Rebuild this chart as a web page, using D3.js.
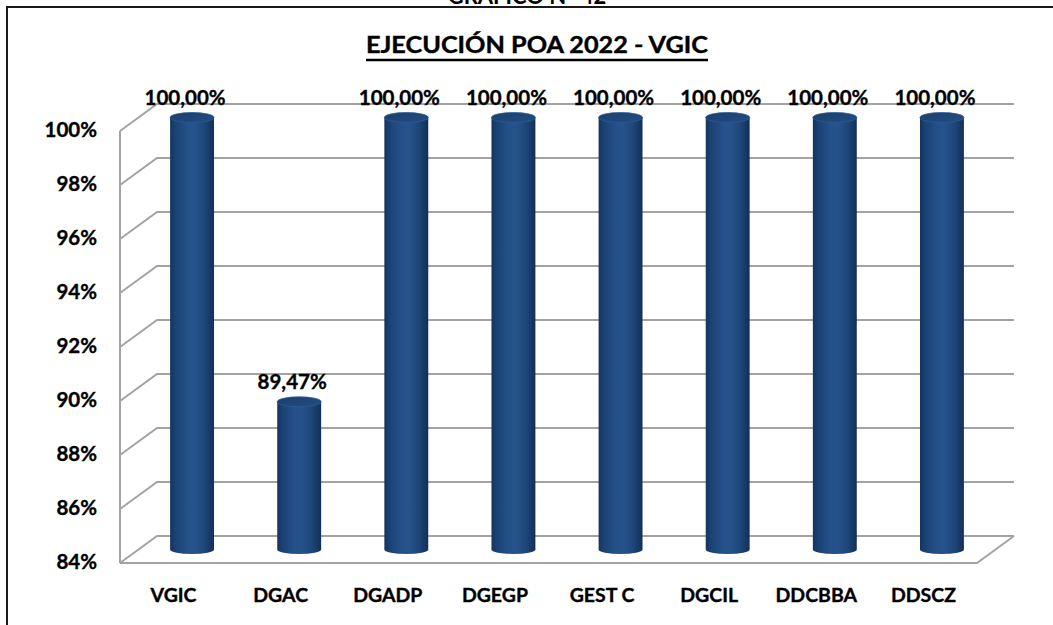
<!DOCTYPE html>
<html><head><meta charset="utf-8">
<script src="https://cdn.jsdelivr.net/npm/d3@7"></script>
<style>
html,body{margin:0;padding:0;background:#fff;}
svg{display:block;font-family:Lato,"Open Sans",sans-serif;}
</style></head>
<body>
<script>
const categories = ["VGIC","DGAC","DGADP","DGEGP","GEST C","DGCIL","DDCBBA","DDSCZ"];
const values = [100, 89.47, 100, 100, 100, 100, 100, 100];
const valueLabels = ["100,00%","89,47%","100,00%","100,00%","100,00%","100,00%","100,00%","100,00%"];
const tickValues = [84, 86, 88, 90, 92, 94, 96, 98, 100];
const tickLabels = ["84%","86%","88%","90%","92%","94%","96%","98%","100%"];
const chartTitle = "EJECUCIÓN POA 2022 - VGIC";
const topTitle = "GRÁFICO N° 42";

const W = 1053, H = 625;
const svg = d3.select("body").append("svg").attr("width", W).attr("height", H);

const DX = 37, DY = -27;

const x = d3.scaleBand().domain(categories).range([120, 977]).paddingInner(0).paddingOuter(0);
const y = d3.scaleLinear().domain([84, 100]).range([563, 131]);

const defs = svg.append("defs");
const g1 = defs.append("linearGradient").attr("id","cyl").attr("x1","0%").attr("x2","100%").attr("y1","0%").attr("y2","0%");
[["0%","#14345e"],["12%","#1b4274"],["40%","#25508a"],["55%","#27538c"],["80%","#1d4577"],["100%","#132f56"]]
  .forEach(([o,c]) => g1.append("stop").attr("offset",o).attr("stop-color",c));
const g2 = defs.append("linearGradient").attr("id","cap").attr("x1","0%").attr("x2","100%").attr("y1","0%").attr("y2","100%");
[["0%","#1a3f6c"],["100%","#244d82"]].forEach(([o,c]) => g2.append("stop").attr("offset",o).attr("stop-color",c));

svg.append("line").attr("x1",6).attr("x2",W).attr("y1",7).attr("y2",7).attr("stroke","#1a1a1a").attr("stroke-width",2);
svg.append("line").attr("x1",7).attr("x2",7).attr("y1",6).attr("y2",H).attr("stroke","#1a1a1a").attr("stroke-width",2);

svg.append("text").attr("x",527).attr("y",4).attr("text-anchor","middle")
  .attr("font-size",22).attr("font-weight","bold").attr("fill","#000").text(topTitle);

svg.append("text").attr("x",537).attr("y",53).attr("text-anchor","middle")
  .attr("font-size",23).attr("font-weight","bold").attr("fill","#000")
  .attr("stroke","#000").attr("stroke-width",0.4)
  .attr("textLength",342).attr("lengthAdjust","spacingAndGlyphs").text(chartTitle);
svg.append("line").attr("x1",366).attr("x2",708).attr("y1",60).attr("y2",60).attr("stroke","#000").attr("stroke-width",2.5);

const grid = svg.append("g").attr("fill","none").attr("stroke","#a3a3a3").attr("stroke-width",2);
const x0 = x.range()[0], x1 = x.range()[1];
tickValues.forEach(v => {
  const yf = y(v);
  if (v === 84) return;
  grid.append("path").attr("d", `M${x0},${yf} L${x0+DX},${yf+DY} L${x1+DX},${yf+DY}`);
});
grid.append("path").attr("d", `M${x0},${y(84)} L${x0+DX},${y(84)+DY} L${x1+DX},${y(84)+DY}`);
grid.append("path").attr("d", `M${x0},${y(84)} L${x1},${y(84)} L${x1+DX},${y(84)+DY}`);
grid.append("path").attr("d", `M${x0},${y(100)} L${x0},${y(84)}`);

const txt = (sel, size) => sel.attr("font-size",size).attr("font-weight","bold").attr("fill","#000")
  .attr("stroke","#000").attr("stroke-width",0.35);

txt(svg.append("g").selectAll("text").data(tickValues).join("text")
  .attr("x",97).attr("y",d => y(d)+1).attr("text-anchor","end").attr("dominant-baseline","middle")
  .text((d,i) => tickLabels[i]), 20.5);

txt(svg.append("g").selectAll("text").data(categories).join("text")
  .attr("x",d => x(d)+x.bandwidth()/2).attr("y",602).attr("text-anchor","middle")
  .text(d => d), 19.5);

const bw = x.bandwidth()*0.41, rx = bw/2, ryTop = 5, ryBot = 4.5;
const bars = svg.append("g");
const labels = svg.append("g");
categories.forEach((c,i) => {
  const cx = x(c) + x.bandwidth()/2 + DX/2;
  const yTop = y(values[i]) + DY/2;
  const yBot = y(84) + DY/2;
  const g = bars.append("g");
  g.append("path").attr("fill","url(#cyl)")
    .attr("d", `M${cx-rx},${yTop} L${cx-rx},${yBot} A${rx},${ryBot} 0 0 0 ${cx+rx},${yBot} L${cx+rx},${yTop} Z`);
  g.append("ellipse").attr("cx",cx).attr("cy",yTop).attr("rx",rx).attr("ry",ryTop)
    .attr("fill","url(#cap)").attr("stroke","#2b5a93").attr("stroke-width",0.8);
  txt(labels.append("text").attr("x",cx-7).attr("y",yTop-12.5).attr("text-anchor","middle")
    .text(valueLabels[i]), 20.5);
});
</script>
</body></html>
